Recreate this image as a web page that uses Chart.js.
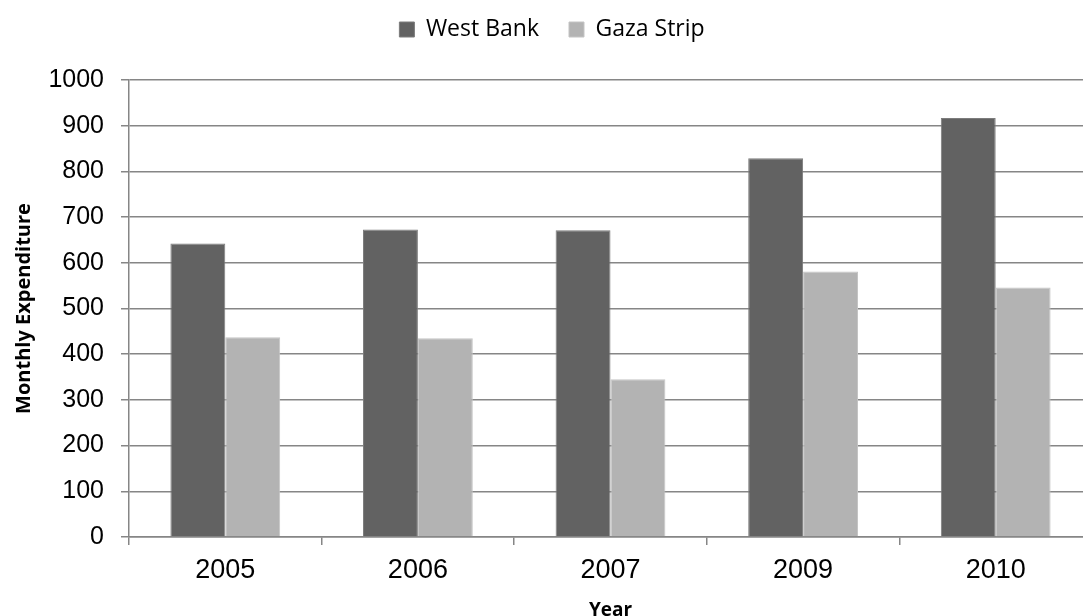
<!DOCTYPE html>
<html>
<head>
<meta charset="utf-8">
<script src="https://cdn.jsdelivr.net/npm/chart.js@4.4.0/dist/chart.umd.min.js"></script>
<style>
  html, body { margin: 0; padding: 0; background: #fff; overflow: hidden; }
  #wrap { width: 1095px; height: 616px; }
</style>
</head>
<body>
<div id="wrap"><canvas id="chart"></canvas></div>
<script>
const years = ['2005', '2006', '2007', '2009', '2010'];
const westBank = [642, 673, 671, 829, 917];
const gazaStrip = [437, 435, 345, 581, 546];
const yTicks = [0, 100, 200, 300, 400, 500, 600, 700, 800, 900, 1000];

const ctx = document.getElementById('chart');
const axisGray = '#868686';

// push the plot area down below the legend
const legendGap = {
  id: 'legendGap',
  beforeInit(chart) {
    const lg = chart.legend;
    if (!lg) return;
    const fit = lg.fit;
    lg.fit = function () {
      fit.call(this);
      this.height += 29;
    };
  }
};

new Chart(ctx, {
  type: 'bar',
  data: {
    labels: years,
    datasets: [
      { label: 'West Bank', data: westBank, backgroundColor: '#626262', borderColor: '#7c7c7c', borderWidth: 1 },
      { label: 'Gaza Strip', data: gazaStrip, backgroundColor: '#b3b3b3', borderColor: '#c4c4c4', borderWidth: 1 }
    ]
  },
  plugins: [legendGap],
  options: {
    responsive: true,
    maintainAspectRatio: false,
    animation: false,
    layout: { padding: { left: 12, right: 3, top: -12, bottom: 0 } },
    datasets: { bar: { categoryPercentage: 0.57, barPercentage: 1.0 } },
    plugins: {
      tooltip: { enabled: false },
      legend: {
        position: 'top',
        labels: {
          boxWidth: 15, boxHeight: 15, padding: 30,
          color: '#000',
          font: { family: 'Open Sans', size: 23 }
        }
      }
    },
    scales: {
      x: {
        offset: true,
        grid: { display: true, offset: true, drawOnChartArea: false, color: axisGray, tickLength: 8, lineWidth: 1.5 },
        border: { display: true, color: axisGray, width: 1.5 },
        ticks: { color: '#000', font: { family: 'Liberation Sans', size: 27 }, padding: 9 },
        title: { display: true, text: 'Year', color: '#000', font: { family: 'Open Sans', size: 19, weight: 'bold' }, padding: { top: 0, bottom: -6 } },
        afterFit: s => { s.height = 79; }
      },
      y: {
        min: 0, max: 1000,
        afterBuildTicks: s => { s.ticks = yTicks.map(v => ({ value: v })); },
        grid: { color: axisGray, lineWidth: 1.5, tickLength: 8 },
        border: { display: true, color: axisGray, width: 1.5 },
        ticks: { color: '#000', font: { family: 'Liberation Sans', size: 25 }, padding: 17, callback: v => String(v) },
        title: { display: true, text: 'Monthly Expenditure', color: '#000', font: { family: 'Open Sans', size: 20, weight: 'bold' }, padding: { top: 0, bottom: 0 } },
        afterFit: s => { s.width = 117; }
      }
    }
  }
});
</script>
</body>
</html>
